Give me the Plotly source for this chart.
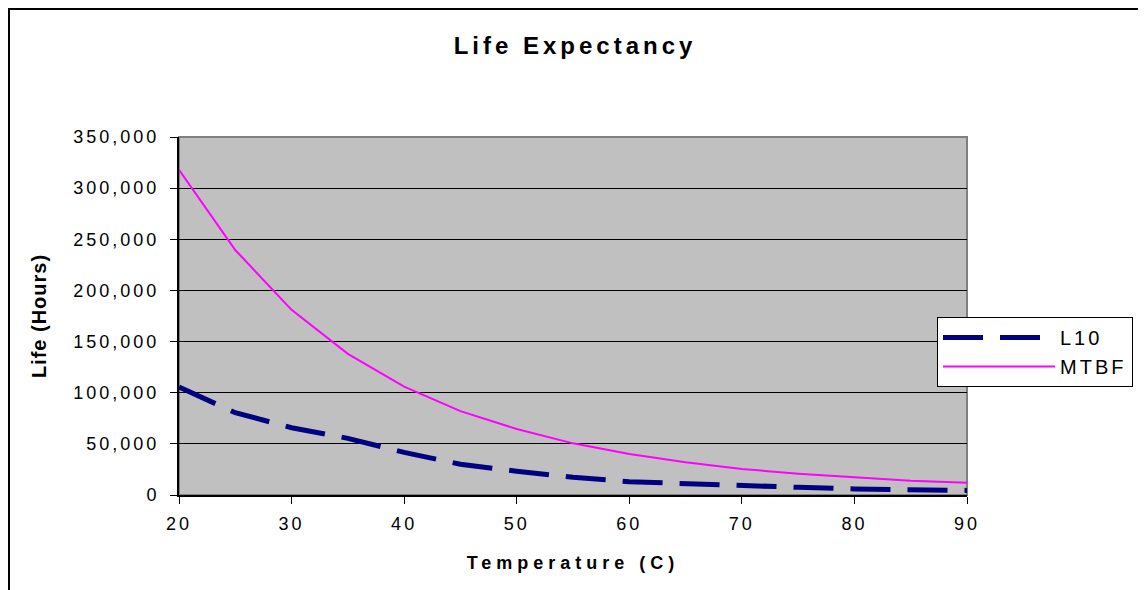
import plotly.graph_objects as go

temperature = [20, 25, 30, 35, 40, 45, 50, 55, 60, 65, 70, 75, 80, 85, 90]
l10_hours = [105500, 80500, 65800, 55400, 41700, 30000, 23200, 17300, 13000, 10800, 8800, 7500, 5900, 4900, 4500]
mtbf_hours = [318000, 239500, 181000, 138000, 106000, 82000, 64500, 50500, 40000, 32000, 25400, 20800, 17300, 14000, 12000]

x_ticks = [20, 30, 40, 50, 60, 70, 80, 90]
y_ticks = [0, 50000, 100000, 150000, 200000, 250000, 300000, 350000]

FONT = "Liberation Sans, Arial, sans-serif"


def spaced(txt, sp):
    return f"<span style='letter-spacing:{sp}px'>{txt}</span>"


# page body adds an 8px offset; plot area on screen: x 179..967, y 137..495
OFF = 8
W, H = 1146, 590
PX0, PX1, PY0, PY1 = 179, 967, 137, 495
L = PX0 - OFF
T = PY0 - OFF
R = W - L - (PX1 - PX0)
B = H - T - (PY1 - PY0)


def px_x(p):
    return (p - PX0) / (PX1 - PX0)


def px_y(p):
    return (PY1 - p) / (PY1 - PY0)


fig = go.Figure()
fig.add_trace(go.Scatter(
    x=temperature, y=l10_hours, mode="lines", name=spaced("L10", 3),
    line=dict(color="#000080", width=5, dash="40px,17px"),
))
fig.add_trace(go.Scatter(
    x=temperature, y=mtbf_hours, mode="lines", name=spaced("MTBF", 3),
    line=dict(color="#FF00FF", width=2),
))

fig.update_layout(
    width=W, height=H,
    margin=dict(l=L, r=R, t=T, b=B, autoexpand=False),
    paper_bgcolor="white",
    plot_bgcolor="#C0C0C0",
    font=dict(family=FONT, color="black", size=18),
    title=dict(text="<b>" + spaced("Life Expectancy", 4) + "</b>", x=px_x(575), xref="paper",
               xanchor="center", y=1 - (46 - OFF) / H, yanchor="middle",
               font=dict(size=24, family=FONT, color="black")),
    showlegend=True,
    legend=dict(x=px_x(937), y=px_y(317), xanchor="left", yanchor="top",
                bgcolor="white", bordercolor="black", borderwidth=1,
                font=dict(size=20, family=FONT), itemwidth=112, tracegroupgap=0),
    xaxis=dict(range=[20, 90], tickvals=x_ticks, ticktext=[spaced(str(v), 3) for v in x_ticks],
               showgrid=False, zeroline=False, showline=True, linecolor="black", linewidth=2,
               ticks="outside", ticklen=7, tickcolor="black", tickwidth=1,
               tickfont=dict(size=18), ticklabelstandoff=4,
               title=dict(text="<b>" + spaced("Temperature (C)", 5) + "</b>", standoff=24,
                          font=dict(size=18))),
    yaxis=dict(range=[0, 350000], tickvals=y_ticks,
               ticktext=[spaced(f"{v:,}", 3) for v in y_ticks],
               showgrid=True, gridcolor="black", gridwidth=1, zeroline=False,
               showline=True, linecolor="black", linewidth=2,
               ticks="outside", ticklen=7, tickcolor="black", tickwidth=1,
               tickfont=dict(size=18), ticklabelstandoff=7,
               title=dict(text="<b>" + spaced("Life (Hours)", 1) + "</b>", standoff=21,
                          font=dict(size=20))),
    shapes=[
        dict(type="rect", xref="paper", yref="paper", x0=0, x1=1, y0=0, y1=1,
             line=dict(color="#808080", width=2), layer="below"),
        dict(type="rect", xref="paper", yref="paper",
             x0=px_x(9), x1=px_x(1170), y0=px_y(620), y1=px_y(9),
             line=dict(color="black", width=2), fillcolor="rgba(0,0,0,0)"),
    ],
)

fig.write_html("out.html")
